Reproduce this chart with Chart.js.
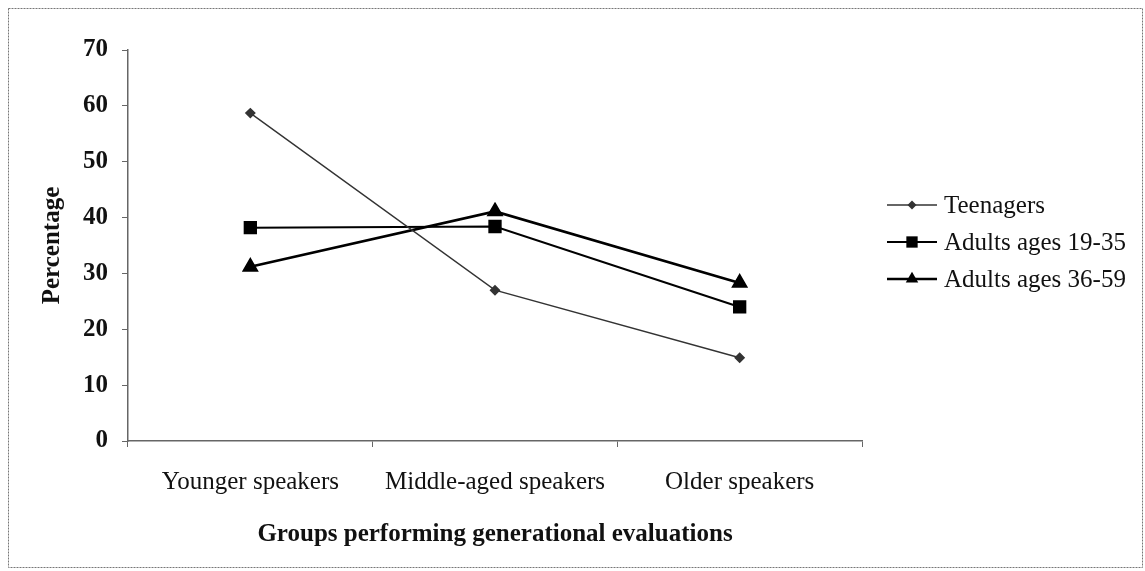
<!DOCTYPE html>
<html>
<head>
<meta charset="utf-8">
<script src="https://cdn.jsdelivr.net/npm/chart.js@4/dist/chart.umd.min.js"></script>
<style>
  html, body { margin: 0; padding: 0; background: #fff; }
  #wrap { width: 1145px; height: 571px; }
</style>
</head>
<body>
<div id="wrap"><canvas id="chart" width="1145" height="571"></canvas></div>
<script>
const categories = ['Younger speakers', 'Middle-aged speakers', 'Older speakers'];
const teenagers = [58.7, 27.0, 14.9];
const adults1935 = [38.2, 38.4, 24.0];
const adults3659 = [31.2, 41.1, 28.3];
const seriesNames = ['Teenagers', 'Adults ages 19-35', 'Adults ages 36-59'];
const yTicks = [0, 10, 20, 30, 40, 50, 60, 70];

const serif = 'Liberation Serif, Times New Roman, serif';

// frame round the whole picture
const framePlugin = {
  id: 'frame',
  beforeDraw(chart) {
    const c = chart.ctx;
    c.save();
    c.fillStyle = '#fff';
    c.fillRect(0, 0, chart.width, chart.height);
    c.strokeStyle = '#777';
    c.lineWidth = 1;
    c.setLineDash([2, 1]);
    c.strokeRect(8.5, 8.5, chart.width - 11, chart.height - 12);
    c.restore();
  }
};

// same shapes Chart.js uses for the points
function drawMarker(c, style, x, y, r) {
  c.beginPath();
  if (style === 'rectRot') {
    c.moveTo(x, y - r); c.lineTo(x + r, y); c.lineTo(x, y + r); c.lineTo(x - r, y);
  } else if (style === 'rect') {
    const s = r * Math.SQRT1_2;
    c.rect(x - s, y - s, 2 * s, 2 * s);
  } else {
    const side = r * Math.sqrt(3);
    const h = side * Math.sqrt(3) / 2;
    c.moveTo(x, y - 2 * h / 3); c.lineTo(x + side / 2, y + h / 3); c.lineTo(x - side / 2, y + h / 3);
  }
  c.closePath();
  c.fill();
}

// legend drawn as line + marker, like the original
const legendPlugin = {
  id: 'lineLegend',
  afterDraw(chart) {
    const c = chart.ctx;
    const area = chart.chartArea;
    const x0 = area.right + 25;
    c.save();
    c.font = '25px ' + serif;
    c.textBaseline = 'middle';
    chart.data.datasets.forEach((ds, i) => {
      const y = 205 + i * 37;
      c.strokeStyle = ds.borderColor;
      c.fillStyle = ds.borderColor;
      c.lineWidth = ds.borderWidth;
      c.beginPath();
      c.moveTo(x0, y);
      c.lineTo(x0 + 50, y);
      c.stroke();
      drawMarker(c, ds.pointStyle, x0 + 25, y, ds.pointRadius);
      c.fillStyle = '#111';
      c.fillText(ds.label, x0 + 57, y + 1);
    });
    c.restore();
  }
};

new Chart(document.getElementById('chart'), {
  type: 'line',
  data: {
    labels: categories,
    datasets: [
      {
        label: seriesNames[0],
        data: teenagers,
        borderColor: '#333',
        backgroundColor: '#333',
        borderWidth: 1.4,
        pointStyle: 'rectRot',
        pointRadius: 4.5,
        tension: 0
      },
      {
        label: seriesNames[1],
        data: adults1935,
        borderColor: '#000',
        backgroundColor: '#000',
        borderWidth: 2,
        pointStyle: 'rect',
        pointRadius: 8,
        tension: 0
      },
      {
        label: seriesNames[2],
        data: adults3659,
        borderColor: '#000',
        backgroundColor: '#000',
        borderWidth: 2.6,
        pointStyle: 'triangle',
        pointRadius: 7.2,
        tension: 0
      }
    ]
  },
  options: {
    responsive: false,
    animation: false,
    layout: { padding: { left: 10, right: 283, top: 50, bottom: 10 } },
    plugins: {
      legend: { display: false },
      tooltip: { enabled: false }
    },
    scales: {
      x: {
        type: 'category',
        offset: true,
        afterFit(axis) { axis.height = 120; },
        border: { display: true, color: '#666', width: 1.5 },
        grid: { display: true, offset: true, drawOnChartArea: false, drawTicks: true, tickLength: 6, color: '#666' },
        ticks: { color: '#111', padding: 20, font: { family: serif, size: 25 } },
        title: {
          display: true,
          text: 'Groups performing generational evaluations',
          color: '#111',
          padding: { top: 0, bottom: 11 },
          font: { family: serif, size: 25, weight: 'bold' }
        }
      },
      y: {
        min: 0,
        max: 70,
        afterFit(axis) { axis.width = 118; },
        afterBuildTicks(axis) { axis.ticks = yTicks.map(v => ({ value: v })); },
        border: { display: true, color: '#666', width: 1.5 },
        grid: { display: true, drawOnChartArea: false, drawTicks: true, tickLength: 6, color: '#666' },
        ticks: { color: '#111', padding: 14, font: { family: serif, size: 25, weight: 'bold' } },
        title: {
          display: true,
          text: 'Percentage',
          color: '#111',
          padding: { top: 28, bottom: 0 },
          font: { family: serif, size: 25, weight: 'bold' }
        }
      }
    }
  },
  plugins: [framePlugin, legendPlugin]
});
</script>
</body>
</html>
